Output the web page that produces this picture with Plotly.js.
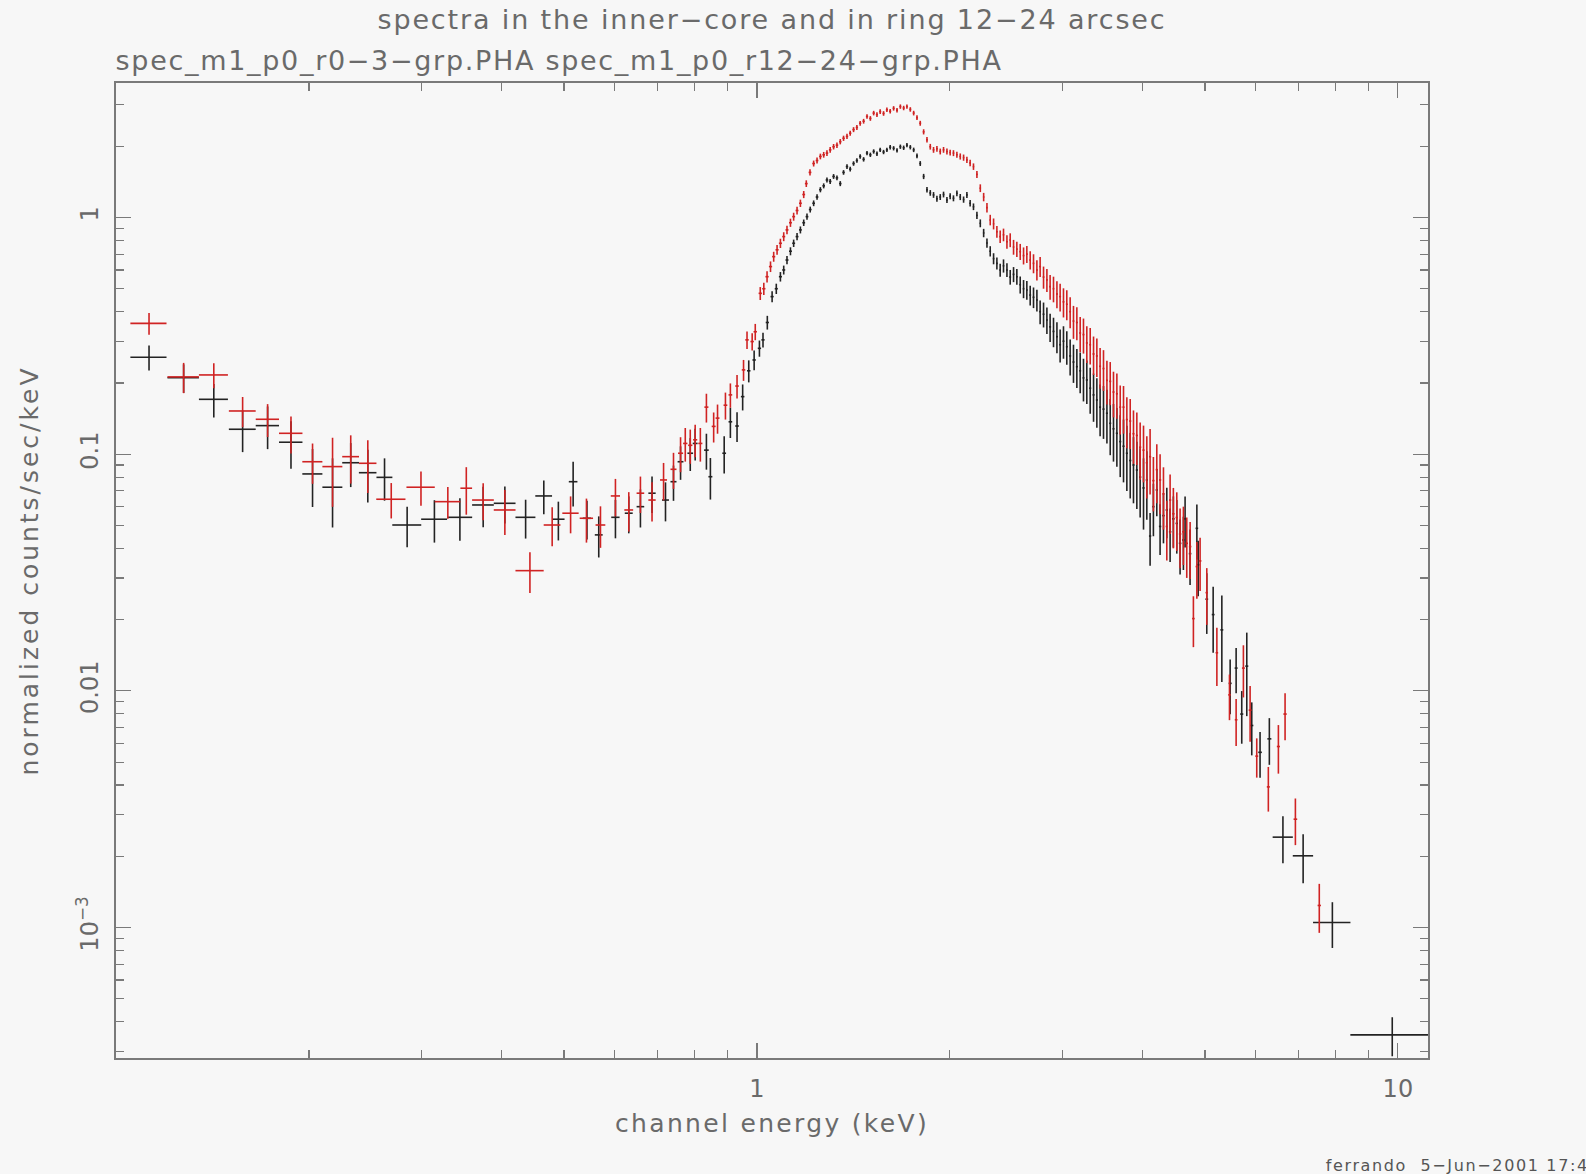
<!DOCTYPE html>
<html>
<head>
<meta charset="utf-8">
<script src="https://cdn.plot.ly/plotly-3.0.1.min.js"></script>
<style>html,body{margin:0;padding:0;background:#f7f7f7;}</style>
</head>
<body>
<div id="chart" style="width:1586px;height:1174px;"></div>
<script>
// ---- inner-core spectrum (black): spec_m1_p0_r0-3-grp.PHA ----
const coreE = [0.1126,0.1275,0.1421,0.1576,0.1724,0.1875,0.2026,0.2177,0.2324,0.2471,0.2624,0.2846,0.3139,0.344,0.374,0.4043,0.4356,0.465,0.49,0.5167,0.543,0.5665,0.6015,0.631,0.658,0.686,0.72,0.741,0.76,0.787,0.801,0.834,0.846,0.889,0.909,0.931,0.95,0.971,0.99,1.009,1.022,1.038,
1.056,1.072,1.088,1.101,1.114,1.128,1.141,1.155,1.169,1.183,1.197,1.211,1.226,1.241,1.256,1.271,1.286,1.301,1.317,1.333,1.349,1.365,1.382,1.398,1.415,1.432,1.449,1.467,1.485,1.503,1.521,1.539,1.557,1.576,1.595,1.614,1.634,1.654,1.674,1.694,1.714,1.735,1.756,1.777,1.798,1.82,1.842,1.864,1.886,1.909,1.932,1.955,1.979,2.002,2.026,2.051,2.076,2.101,2.126,2.151,2.177,2.204,2.231,2.258,2.285,
2.312,2.34,2.368,2.396,2.425,2.455,2.484,2.514,2.544,2.575,2.606,2.637,2.669,2.701,2.734,2.766,2.8,2.834,2.867,2.902,2.938,2.972,3.008,3.044,3.081,3.118,3.156,3.194,3.232,3.271,3.311,3.351,3.391,3.431,3.473,3.516,3.558,3.6,3.644,3.688,3.732,3.777,3.823,3.868,3.915,3.962,4.01,4.058,
4.106,4.155,4.206,4.256,4.308,4.36,4.412,4.464,4.519,4.573,4.628,4.656,4.74,4.857,4.88,5.033,5.15,5.313,5.474,5.593,5.707,5.811,5.916,6.095,6.302,6.617,7.115,7.903,9.8];
const coreEw = [0.0073,0.0072,0.0074,0.0076,0.0072,0.0079,0.0073,0.0078,0.007,0.0078,0.0075,0.0148,0.0146,0.0155,0.0146,0.0158,0.0156,0.014,0.011,0.008,0.008,0.008,0.009,0.009,0.009,0.009,0.009,0.008,0.008,0.008,0.007,0.007,0.006,0.006,0.006,0.006,0.006,0.006,0.006,0.006,0.006,0.006,
0.006,0.006,0.006,0.006,0.006,0.006,0.006,0.006,0.006,0.006,0.006,0.006,0.006,0.006,0.006,0.006,0.006,0.006,0.006,0.006,0.006,0.006,0.006,0.006,0.006,0.006,0.006,0.006,0.006,0.006,0.006,0.006,0.006,0.006,0.006,0.006,0.006,0.006,0.006,0.006,0.006,0.006,0.006,0.006,0.006,0.006,0.006,0.006,0.006,0.006,0.006,0.006,0.006,0.006,0.006,0.006,0.006,0.006,0.006,0.006,0.006,0.006,0.006,0.006,0.006,
0.007,0.007,0.007,0.007,0.007,0.007,0.008,0.008,0.008,0.008,0.008,0.008,0.009,0.009,0.009,0.009,0.009,0.009,0.01,0.01,0.01,0.01,0.01,0.01,0.011,0.011,0.011,0.011,0.011,0.012,0.012,0.012,0.012,0.012,0.013,0.013,0.013,0.013,0.014,0.014,0.014,0.014,0.015,0.015,0.015,0.016,0.016,0.016,
0.017,0.017,0.018,0.018,0.018,0.019,0.019,0.02,0.02,0.021,0.021,0.021,0.022,0.023,0.023,0.025,0.026,0.028,0.03,0.03,0.032,0.032,0.034,0.04,0.045,0.24,0.26,0.53,1.37];
const coreC = [0.2566,0.2104,0.1705,0.1274,0.132,0.1123,0.0825,0.0725,0.092,0.0835,0.0798,0.0502,0.0531,0.0541,0.061,0.062,0.0541,0.0666,0.0531,0.0765,0.0536,0.0456,0.0541,0.0563,0.06,0.0684,0.064,0.0765,0.0929,0.1009,0.111,0.104,0.0803,0.1009,0.137,0.1315,0.175,0.225,0.25,0.28,0.304,0.36,
0.463,0.5,0.562,0.6,0.661,0.72,0.778,0.83,0.886,0.95,1.008,1.08,1.148,1.22,1.31,1.36,1.44,1.42,1.49,1.47,1.39,1.55,1.64,1.6,1.69,1.74,1.81,1.76,1.87,1.84,1.9,1.86,1.93,1.89,1.93,1.98,1.96,1.92,1.99,1.97,2.02,1.98,1.93,1.82,1.69,1.49,1.31,1.27,1.245,1.2,1.22,1.25,1.185,1.23,1.205,1.265,1.22,1.19,1.245,1.148,1.11,1.02,0.945,0.86,0.78,
0.72,0.67,0.64,0.6,0.625,0.6,0.56,0.575,0.562,0.52,0.5,0.494,0.47,0.46,0.448,0.4,0.39,0.369,0.345,0.33,0.3136,0.29,0.3,0.2845,0.26,0.245,0.2343,0.225,0.21,0.2058,0.19,0.178,0.1694,0.158,0.155,0.1489,0.135,0.128,0.1225,0.113,0.108,0.1009,0.094,0.09,0.0857,0.08,0.072,0.0778,
0.0451,0.06,0.0706,0.0495,0.055,0.0581,0.047,0.0533,0.051,0.042,0.0434,0.0533,0.038,0.0486,0.0341,0.0244,0.021,0.0181,0.01076,0.01248,0.00798,0.01272,0.00714,0.0055,0.00627,0.00241,0.00201,0.00105,0.000352];
const coreCe = [0.031,0.029,0.0276,0.0254,0.027,0.0255,0.0227,0.0235,0.0194,0.021,0.0162,0.0098,0.0108,0.011,0.0119,0.011,0.0101,0.0108,0.0099,0.0164,0.01,0.009,0.01,0.01,0.011,0.012,0.012,0.013,0.015,0.016,0.017,0.018,0.016,0.018,0.02,0.019,0.022,0.024,0.024,0.022,0.022,0.024,
0.025,0.025,0.026,0.026,0.027,0.028,0.028,0.029,0.03,0.03,0.03,0.031,0.032,0.032,0.033,0.033,0.034,0.034,0.035,0.035,0.034,0.035,0.036,0.036,0.037,0.037,0.038,0.038,0.039,0.039,0.04,0.04,0.04,0.04,0.041,0.041,0.041,0.041,0.042,0.042,0.042,0.042,0.042,0.041,0.04,0.038,0.036,0.035,0.035,0.035,0.035,0.035,0.035,0.035,0.035,0.036,0.036,0.036,0.036,0.036,0.036,0.036,0.036,0.035,0.035,
0.036,0.036,0.037,0.038,0.04,0.04,0.04,0.042,0.043,0.043,0.044,0.045,0.045,0.046,0.047,0.046,0.047,0.047,0.047,0.047,0.047,0.046,0.047,0.046,0.045,0.045,0.044,0.044,0.043,0.043,0.042,0.041,0.04,0.039,0.039,0.038,0.036,0.035,0.034,0.033,0.032,0.031,0.029,0.028,0.027,0.026,0.024,0.025,
0.0113,0.015,0.016,0.012,0.013,0.014,0.012,0.013,0.013,0.011,0.011,0.013,0.01,0.0127,0.009,0.007,0.0065,0.0072,0.0028,0.0027,0.002,0.0049,0.0018,0.0012,0.0014,0.00054,0.00047,0.00023,0.000066];

// ---- ring 12-24 arcsec spectrum (red): spec_m1_p0_r12-24-grp.PHA ----
const ringE = [0.1126,0.1275,0.1421,0.1576,0.1724,0.1875,0.2026,0.2177,0.2324,0.2471,0.2688,0.2991,0.3294,0.352,0.374,0.4043,0.4424,0.4792,0.512,0.542,0.57,0.6015,0.631,0.658,0.686,0.715,0.741,0.76,0.773,0.787,0.801,0.816,0.834,0.856,0.868,0.893,0.909,0.931,0.953,0.965,0.983,0.994,
1.012,1.025,1.037,1.05,1.062,1.075,1.088,1.101,1.114,1.128,1.141,1.155,1.169,1.183,1.194,1.21,1.226,1.241,1.256,1.271,1.286,1.301,1.317,1.333,1.349,1.365,1.382,1.398,1.415,1.432,1.449,1.467,1.485,1.503,1.521,1.539,1.557,1.576,1.595,1.614,1.634,1.654,1.674,1.694,1.714,1.735,1.756,1.777,1.798,1.82,1.842,1.864,1.886,1.909,1.932,1.955,1.979,2.002,2.026,2.051,2.076,2.101,2.126,2.151,2.177,2.204,2.231,2.258,2.285,
2.312,2.34,2.368,2.396,2.425,2.455,2.484,2.514,2.544,2.575,2.606,2.637,2.669,2.701,2.734,2.766,2.8,2.834,2.867,2.902,2.938,2.972,3.008,3.044,3.081,3.118,3.156,3.194,3.232,3.271,3.311,3.351,3.391,3.431,3.473,3.516,3.558,3.6,3.644,3.688,3.732,3.777,3.823,3.868,3.915,3.962,4.01,4.058,
4.106,4.155,4.206,4.256,4.308,4.36,4.412,4.464,4.519,4.573,4.628,4.684,4.741,4.797,4.857,4.914,5.033,5.219,5.461,5.593,5.741,5.881,6.023,6.279,6.51,6.668,6.92,7.54];
const ringEw = [0.0073,0.0072,0.0074,0.0076,0.0072,0.0079,0.0073,0.0078,0.007,0.0078,0.0141,0.0152,0.0152,0.0074,0.0146,0.0158,0.0224,0.0144,0.015,0.013,0.01,0.01,0.01,0.009,0.009,0.009,0.008,0.007,0.006,0.006,0.006,0.006,0.006,0.006,0.006,0.006,0.006,0.006,0.006,0.006,0.006,0.006,
0.006,0.006,0.006,0.006,0.006,0.006,0.006,0.006,0.006,0.006,0.006,0.006,0.006,0.006,0.006,0.006,0.006,0.006,0.006,0.006,0.006,0.006,0.006,0.006,0.006,0.006,0.006,0.006,0.006,0.006,0.006,0.006,0.006,0.006,0.006,0.006,0.006,0.006,0.006,0.006,0.006,0.006,0.006,0.006,0.006,0.006,0.006,0.006,0.006,0.006,0.006,0.006,0.006,0.006,0.006,0.006,0.006,0.006,0.006,0.006,0.006,0.006,0.006,0.006,0.006,0.006,0.006,0.006,0.006,0.006,0.006,
0.007,0.007,0.007,0.007,0.007,0.007,0.008,0.008,0.008,0.008,0.008,0.008,0.009,0.009,0.009,0.009,0.009,0.009,0.01,0.01,0.01,0.01,0.01,0.01,0.011,0.011,0.011,0.011,0.011,0.012,0.012,0.012,0.012,0.012,0.013,0.013,0.013,0.013,0.014,0.014,0.014,0.014,0.015,0.015,0.015,0.016,0.016,0.016,
0.017,0.017,0.018,0.018,0.018,0.019,0.019,0.02,0.02,0.021,0.021,0.022,0.022,0.023,0.023,0.024,0.025,0.027,0.03,0.03,0.032,0.034,0.036,0.04,0.045,0.045,0.25,0.37];
const ringC = [0.357,0.212,0.2161,0.1522,0.1404,0.1225,0.0929,0.0886,0.0976,0.0915,0.0645,0.0725,0.063,0.0718,0.064,0.0581,0.0322,0.0502,0.0563,0.0536,0.0502,0.0666,0.0581,0.0684,0.064,0.0778,0.0863,0.1009,0.111,0.109,0.115,0.111,0.158,0.131,0.142,0.161,0.178,0.194,0.227,0.304,0.299,0.329,
0.478,0.5,0.562,0.62,0.683,0.73,0.778,0.83,0.886,0.95,1.008,1.07,1.148,1.25,1.39,1.55,1.69,1.74,1.81,1.84,1.87,1.93,1.99,2.02,2.09,2.16,2.2,2.27,2.35,2.4,2.5,2.55,2.67,2.62,2.76,2.72,2.8,2.75,2.85,2.81,2.89,2.84,2.94,2.9,2.94,2.86,2.76,2.64,2.5,2.3,2.13,1.99,1.93,1.95,1.9,1.93,1.9,1.88,1.87,1.84,1.81,1.79,1.75,1.7,1.64,1.52,1.33,1.22,1.1,
0.976,0.94,0.87,0.83,0.845,0.79,0.803,0.75,0.735,0.717,0.69,0.7,0.661,0.64,0.6,0.62,0.56,0.545,0.51,0.5,0.475,0.463,0.44,0.43,0.4,0.365,0.36,0.325,0.32,0.295,0.29,0.265,0.26,0.235,0.23,0.205,0.203,0.183,0.18,0.158,0.158,0.14,0.138,0.122,0.12,0.107,0.104,0.092,
0.0976,0.0773,0.086,0.0778,0.068,0.0495,0.064,0.056,0.054,0.046,0.047,0.042,0.0407,0.0202,0.0335,0.0354,0.026,0.01449,0.00962,0.00755,0.01248,0.00829,0.0053,0.00393,0.00582,0.00798,0.00287,0.00124];
const ringCe = [0.0376,0.031,0.0263,0.0222,0.0223,0.0218,0.018,0.0287,0.0225,0.023,0.011,0.012,0.0097,0.0163,0.0114,0.0125,0.0063,0.0094,0.01,0.0113,0.01,0.012,0.011,0.012,0.012,0.014,0.015,0.017,0.018,0.018,0.018,0.018,0.022,0.019,0.02,0.021,0.021,0.022,0.023,0.026,0.025,0.026,
0.03,0.03,0.031,0.032,0.033,0.034,0.035,0.036,0.037,0.038,0.039,0.04,0.041,0.043,0.045,0.047,0.049,0.05,0.05,0.051,0.051,0.052,0.053,0.053,0.054,0.055,0.055,0.056,0.057,0.057,0.058,0.059,0.06,0.06,0.061,0.061,0.062,0.062,0.062,0.062,0.063,0.063,0.063,0.063,0.063,0.063,0.062,0.061,0.06,0.058,0.056,0.055,0.054,0.054,0.054,0.054,0.054,0.054,0.054,0.054,0.054,0.054,0.053,0.053,0.052,0.051,0.05,0.05,0.05,
0.05,0.05,0.05,0.05,0.052,0.052,0.054,0.054,0.055,0.056,0.057,0.058,0.058,0.059,0.059,0.06,0.06,0.061,0.061,0.062,0.062,0.062,0.062,0.062,0.06,0.058,0.057,0.055,0.054,0.052,0.051,0.049,0.048,0.046,0.045,0.043,0.042,0.04,0.039,0.037,0.036,0.034,0.033,0.031,0.03,0.029,0.028,0.027,
0.03,0.02,0.024,0.022,0.02,0.014,0.018,0.016,0.015,0.013,0.013,0.012,0.011,0.0049,0.009,0.009,0.007,0.004,0.0021,0.0017,0.0031,0.0022,0.001,0.00084,0.00135,0.0018,0.00064,0.00029];

// ---- axis ticks ----
const xMajorVals = [1, 10];
const xMajorText = ['1', '10'];
const xMinorVals = [0.2,0.3,0.4,0.5,0.6,0.7,0.8,0.9,2,3,4,5,6,7,8,9];
const yMajorVals = [0.001, 0.01, 0.1, 1];
const yMajorText = ['10<sup>\u22123</sup>', '0.01', '0.1', '1'];
const yMinorVals = [0.0003,0.0004,0.0005,0.0006,0.0007,0.0008,0.0009,0.002,0.003,0.004,0.005,0.006,0.007,0.008,0.009,0.02,0.03,0.04,0.05,0.06,0.07,0.08,0.09,0.2,0.3,0.4,0.5,0.6,0.7,0.8,0.9,2,3];

const FONT = 'DejaVu Sans, sans-serif';
const TXT = '#6a6a6a';
const BLACK = 'rgb(35,35,35)';
const RED = 'rgb(208,35,35)';

function spec(E, Ew, C, Ce, col) {
  return {
    type: 'scatter', mode: 'markers', x: E, y: C,
    marker: {size: 1, color: col},
    error_x: {type: 'data', array: Ew, symmetric: true, width: 0, thickness: 1.6, color: col},
    error_y: {type: 'data', array: Ce, symmetric: true, width: 0, thickness: 1.6, color: col},
    hoverinfo: 'x+y', showlegend: false
  };
}

const data = [
  spec(coreE, coreEw, coreC, coreCe, BLACK),
  spec(ringE, ringEw, ringC, ringCe, RED)
];

const axisCommon = {
  type: 'log', showgrid: false, zeroline: false,
  showline: true, linecolor: '#7a7a7a', linewidth: 1.6, mirror: 'ticks',
  ticks: 'inside', ticklen: 15, tickwidth: 1.2, tickcolor: '#7a7a7a',
  tickmode: 'array',
  tickfont: {family: FONT, size: 24, color: TXT}
};

// plot area in pixels: left 116, right 1428, top 83, bottom 1058
const layout = {
  width: 1586, height: 1174,
  paper_bgcolor: '#f7f7f7', plot_bgcolor: '#f7f7f7',
  margin: {l: 116, r: 158, t: 83, b: 116},
  font: {family: FONT, color: TXT},
  title: {
    text: 'spectra in the inner\u2212core and in ring 12\u221224 arcsec',
    font: {family: FONT, size: 27, color: TXT},
    x: 0.5, xref: 'paper', xanchor: 'center',
    y: 1 - 20/1174, yref: 'container', yanchor: 'middle'
  },
  xaxis: Object.assign({}, axisCommon, {
    range: [-1, 1.047],
    tickvals: xMajorVals, ticktext: xMajorText,
    ticklabelstandoff: 9,
    minor: {tickmode: 'array', tickvals: xMinorVals, ticks: 'inside', ticklen: 8, tickwidth: 1.2, tickcolor: '#7a7a7a', showgrid: false},
    title: {text: 'channel energy (keV)', font: {family: FONT, size: 25, color: TXT}, standoff: 12}
  }),
  yaxis: Object.assign({}, axisCommon, {
    range: [-3.551, 0.568],
    tickvals: yMajorVals, ticktext: yMajorText, tickangle: -90,
    ticklabelstandoff: 7,
    minor: {tickmode: 'array', tickvals: yMinorVals, ticks: 'inside', ticklen: 8, tickwidth: 1.2, tickcolor: '#7a7a7a', showgrid: false},
    title: {text: 'normalized counts/sec/keV', font: {family: FONT, size: 25, color: TXT}, standoff: 26}
  }),
  annotations: [
    {text: 'spec_m1_p0_r0\u22123\u2212grp.PHA spec_m1_p0_r12\u221224\u2212grp.PHA',
     xref: 'paper', yref: 'paper', x: ((116+1003)/2 - 116)/1312, y: (1058-61)/975, xanchor: 'center', yanchor: 'middle',
     showarrow: false, font: {family: FONT, size: 27, color: TXT}},
    {text: 'ferrando  5\u2212Jun\u22122001 17:40',
     xref: 'paper', yref: 'paper', x: ((1325+1600)/2 - 116)/1312, y: (1058-1165)/975, xanchor: 'center', yanchor: 'middle',
     showarrow: false, font: {family: FONT, size: 16, color: '#555'}}
  ]
};

// widen the letter spacing of the texts so they span as wide as in the reference (Hershey-like spacing)
function spread(el, target) {
  if (!el) return;
  const w = el.getComputedTextLength();
  const n = (el.textContent || '').length;
  if (n > 1 && target > w) el.style.letterSpacing = ((target - w) / n).toFixed(2) + 'px';
}

Plotly.newPlot('chart', data, layout, {displayModeBar: false, staticPlot: true}).then(function (gd) {
  spread(gd.querySelector('.gtitle'), 789);
  spread(gd.querySelector('.xtitle'), 314);
  spread(gd.querySelector('.ytitle'), 410);
  const ann = gd.querySelectorAll('.annotation-text');
  spread(ann[0], 887);
  spread(ann[1], 275);
});
</script>
</body>
</html>
